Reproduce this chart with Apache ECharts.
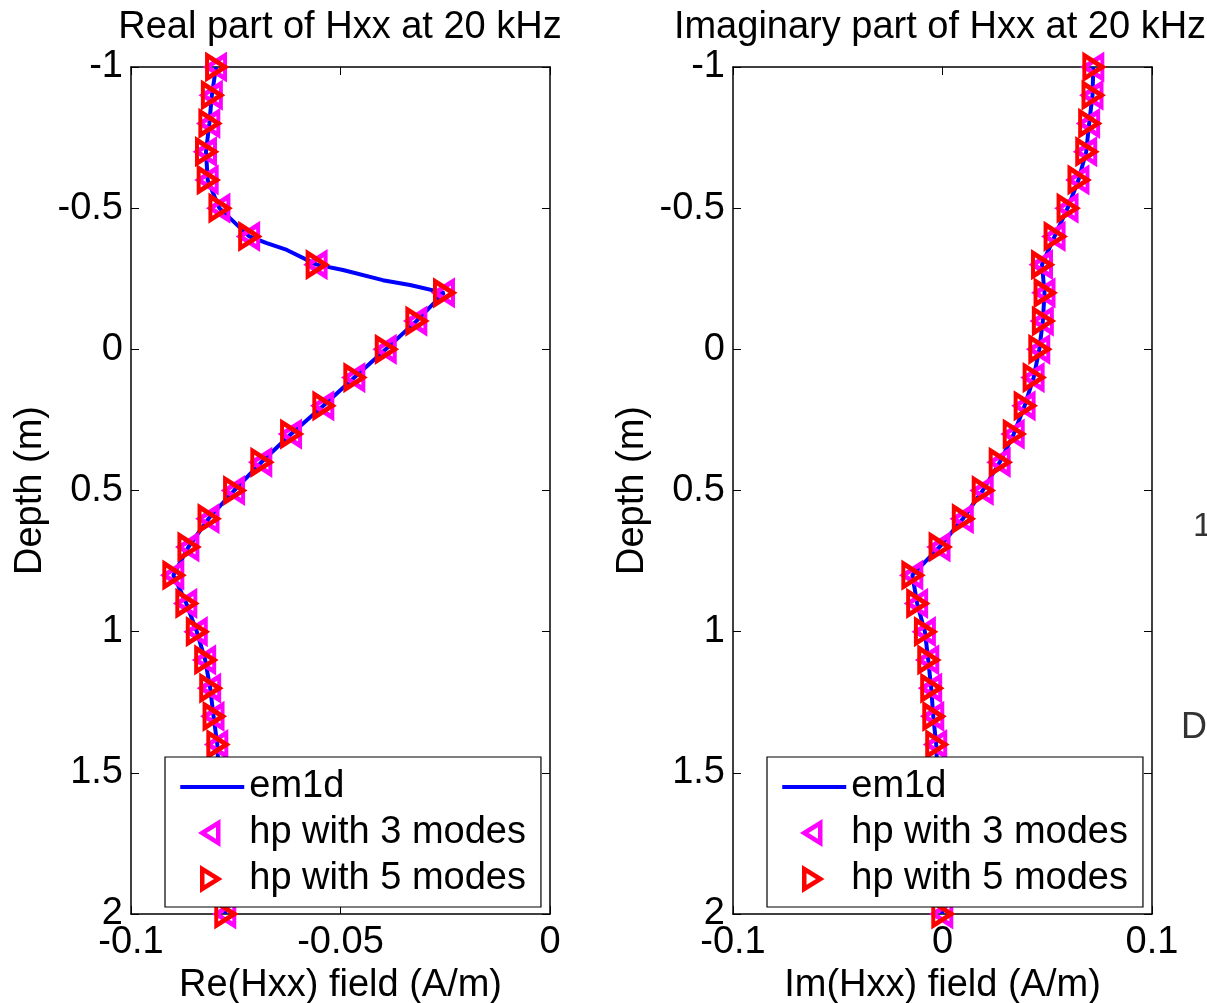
<!DOCTYPE html>
<html>
<head>
<meta charset="utf-8">
<script src="https://cdn.jsdelivr.net/npm/echarts@6/dist/echarts.min.js"></script>
<style>
  html, body { margin: 0; padding: 0; background: #fff; }
  #main { width: 1207px; height: 1003px; }
</style>
</head>
<body>
<div id="main"></div>
<script>
// sample depths of the hp markers (m)
var depths = [-1, -0.9, -0.8, -0.7, -0.6, -0.5, -0.4, -0.3, -0.2, -0.1, 0,
  0.1, 0.2, 0.3, 0.4, 0.5, 0.6, 0.7, 0.8, 0.9, 1, 1.1, 1.2, 1.3, 1.4,
  1.5, 1.6, 1.7, 1.8, 1.9, 2];

// real part, hp with 3 / 5 modes
var reHp3 = [-0.0797, -0.0807, -0.0813, -0.0821, -0.0817, -0.0789, -0.0718, -0.0557, -0.0253, -0.0319, -0.0392,
  -0.0467, -0.0541, -0.0618, -0.0689, -0.0754, -0.0815, -0.0863, -0.0899, -0.0868, -0.0843, -0.0823, -0.0811, -0.0803, -0.0794,
  -0.0791, -0.0788, -0.0784, -0.0781, -0.0778, -0.0775];
var reHp5 = [-0.0797, -0.0807, -0.0813, -0.0821, -0.0817, -0.0789, -0.0718, -0.0557, -0.0253, -0.0319, -0.0392,
  -0.0467, -0.0541, -0.0618, -0.0689, -0.0754, -0.0815, -0.0863, -0.0899, -0.0868, -0.0843, -0.0823, -0.0811, -0.0803, -0.0794,
  -0.0791, -0.0788, -0.0784, -0.0781, -0.0778, -0.0775];

// imaginary part, hp with 3 / 5 modes
var imHp3 = [0.0720, 0.0716, 0.0700, 0.0686, 0.0649, 0.0597, 0.0535, 0.0475, 0.0487, 0.0479, 0.0462,
  0.0435, 0.0392, 0.0340, 0.0273, 0.0192, 0.0097, -0.0014, -0.0144, -0.0121, -0.0084, -0.0068, -0.0054, -0.0044, -0.0030,
  -0.0025, -0.0020, -0.0014, -0.0009, -0.0005, -0.0001];
var imHp5 = [0.0720, 0.0716, 0.0700, 0.0686, 0.0649, 0.0597, 0.0535, 0.0475, 0.0487, 0.0479, 0.0462,
  0.0435, 0.0392, 0.0340, 0.0273, 0.0192, 0.0097, -0.0014, -0.0144, -0.0121, -0.0084, -0.0068, -0.0054, -0.0044, -0.0030,
  -0.0025, -0.0020, -0.0014, -0.0009, -0.0005, -0.0001];

// em1d reference curve (real part has a few extra points in the bend)
var em1dReDepth = [-1, -0.9, -0.8, -0.7, -0.6, -0.5, -0.4, -0.376, -0.352, -0.3, -0.281, -0.245, -0.228, -0.2, -0.1, 0,
  0.1, 0.2, 0.3, 0.4, 0.5, 0.6, 0.7, 0.8, 0.9, 1, 1.1, 1.2, 1.3, 1.4,
  1.5, 1.6, 1.7, 1.8, 1.9, 2];
var em1dRe = [-0.0797, -0.0807, -0.0813, -0.0821, -0.0817, -0.0789, -0.0718, -0.0676, -0.0628, -0.0557, -0.0494, -0.0399, -0.0334, -0.0253, -0.0319, -0.0392,
  -0.0467, -0.0541, -0.0618, -0.0689, -0.0754, -0.0815, -0.0863, -0.0899, -0.0868, -0.0843, -0.0823, -0.0811, -0.0803, -0.0794,
  -0.0791, -0.0788, -0.0784, -0.0781, -0.0778, -0.0775];
var em1dIm = [0.0720, 0.0716, 0.0700, 0.0686, 0.0649, 0.0597, 0.0535, 0.0475, 0.0487, 0.0479, 0.0462,
  0.0435, 0.0392, 0.0340, 0.0273, 0.0192, 0.0097, -0.0014, -0.0144, -0.0121, -0.0084, -0.0068, -0.0054, -0.0044, -0.0030,
  -0.0025, -0.0020, -0.0014, -0.0009, -0.0005, -0.0001];

var depthTicks = ['-1', '-0.5', '0', '0.5', '1', '1.5', '2'];

var FONT = "'Liberation Sans', Arial, sans-serif";
var FS = 38;

function pairs(xs, ys) {
  var out = [];
  for (var i = 0; i < xs.length; i++) out.push([xs[i], ys[i]]);
  return out;
}

var chart = echarts.init(document.getElementById('main'));

function xAxes(grid, min, max, interval, name) {
  var base = {
    gridIndex: grid, type: 'value', min: min, max: max, interval: interval,
    splitLine: { show: false },
    axisLine: { show: true, onZero: false, lineStyle: { color: '#000', width: 1.5 } },
    axisTick: { show: true, inside: true, length: 8, lineStyle: { color: '#000', width: 1 } }
  };
  var bottom = Object.assign({}, base, {
    position: 'bottom',
    name: name, nameLocation: 'middle', nameGap: 49,
    nameTextStyle: { fontSize: FS, color: '#000', fontFamily: FONT },
    axisLabel: { fontSize: FS, color: '#000', fontFamily: FONT, margin: 10 }
  });
  var top = Object.assign({}, base, { position: 'top', axisLabel: { show: false } });
  return [bottom, top];
}

function yAxes(grid) {
  var base = {
    gridIndex: grid, type: 'value', min: -1, max: 2, interval: 0.5, inverse: true,
    splitLine: { show: false },
    axisLine: { show: true, onZero: false, lineStyle: { color: '#000', width: 1.5 } },
    axisTick: { show: true, inside: true, length: 8, lineStyle: { color: '#000', width: 1 } }
  };
  var left = Object.assign({}, base, {
    position: 'left',
    name: 'Depth (m)', nameLocation: 'middle', nameGap: 81, nameRotate: 90,
    nameTextStyle: { fontSize: FS, color: '#000', fontFamily: FONT },
    axisLabel: {
      fontSize: FS, color: '#000', fontFamily: FONT, margin: 8,
      formatter: function (v) {
        var i = Math.round((v + 1) / 0.5);
        return depthTicks[i];
      }
    }
  });
  var right = Object.assign({}, base, { position: 'right', axisLabel: { show: false } });
  return [left, right];
}

function lineSeries(x, y, xs, ys) {
  return {
    name: 'em1d', type: 'line', xAxisIndex: x, yAxisIndex: y,
    data: pairs(xs, ys), symbol: 'none', showSymbol: false, z: 2,
    lineStyle: { color: '#0000ff', width: 4 },
    itemStyle: { color: '#0000ff' }
  };
}

function markerSeries(name, x, y, xs, ys, color, rot, z) {
  return {
    name: name, type: 'scatter', xAxisIndex: x, yAxisIndex: y,
    data: pairs(xs, ys), symbol: 'triangle', symbolRotate: rot,
    symbolSize: [23, 18], z: z,
    itemStyle: { color: 'rgba(0,0,0,0)', borderColor: color, borderWidth: 4.5, opacity: 1 }
  };
}

// legend icons: the leading M points fix the 64x24 box so nothing is stretched
function legendAt(left) {
  return {
    orient: 'vertical', left: left, top: 757, z: 20,
    backgroundColor: '#fff', borderColor: '#000', borderWidth: 1.2,
    padding: [11, 15, 9, 13],
    itemWidth: 64, itemHeight: 24, itemGap: 8,
    selectedMode: false,
    textStyle: { fontSize: FS, color: '#000', fontFamily: FONT, lineHeight: 38 },
    data: [
      { name: 'em1d', icon: 'path://M0,0 M64,24 M0,10 L64,10 L64,14 L0,14 Z',
        itemStyle: { color: '#0000ff', borderWidth: 0, opacity: 1 } },
      { name: 'hp with 3 modes', icon: 'path://M0,0 M64,24 M22,12 L38,2 L38,22 Z',
        itemStyle: { color: 'rgba(0,0,0,0)', borderColor: '#ff00ff', borderWidth: 4.5, opacity: 1 } },
      { name: 'hp with 5 modes', icon: 'path://M0,0 M64,24 M38,12 L22,2 L22,22 Z',
        itemStyle: { color: 'rgba(0,0,0,0)', borderColor: '#ff0000', borderWidth: 4.5, opacity: 1 } }
    ]
  };
}

var xa = xAxes(0, -0.1, 0, 0.05, 'Re(Hxx) field (A/m)').concat(xAxes(1, -0.1, 0.1, 0.1, 'Im(Hxx) field (A/m)'));
var ya = yAxes(0).concat(yAxes(1));

var option = {
  animation: false,
  backgroundColor: '#fff',
  title: [
    { text: 'Real part of Hxx at 20 kHz', left: 340, top: 9, textAlign: 'center', padding: 0,
      textStyle: { fontSize: FS, fontWeight: 'normal', color: '#000', fontFamily: FONT } },
    { text: 'Imaginary part of Hxx at 20 kHz', left: 940, top: 9, textAlign: 'center', padding: 0,
      textStyle: { fontSize: FS, fontWeight: 'normal', color: '#000', fontFamily: FONT } }
  ],
  grid: [
    { left: 131, top: 67, width: 419, height: 847, outerBoundsMode: 'none' },
    { left: 733, top: 67, width: 419, height: 847, outerBoundsMode: 'none' }
  ],
  xAxis: xa,
  yAxis: ya,
  legend: [legendAt(165), legendAt(767)],
  series: [
    lineSeries(0, 0, em1dRe, em1dReDepth),
    markerSeries('hp with 3 modes', 0, 0, reHp3, depths, '#ff00ff', 90, 3),
    markerSeries('hp with 5 modes', 0, 0, reHp5, depths, '#ff0000', -90, 4),
    lineSeries(2, 2, em1dIm, depths),
    markerSeries('hp with 3 modes', 2, 2, imHp3, depths, '#ff00ff', 90, 3),
    markerSeries('hp with 5 modes', 2, 2, imHp5, depths, '#ff0000', -90, 4)
  ],
  graphic: [
    // pieces of the neighbouring figure cut off at the right edge
    { type: 'text', left: 1193, top: 510, style: { text: '1', fontSize: 34, fill: '#333', fontFamily: FONT } },
    { type: 'text', left: 1181, top: 710, style: { text: 'De', fontSize: 36, fill: '#333', fontFamily: FONT } }
  ]
};

chart.setOption(option);
</script>
</body>
</html>
